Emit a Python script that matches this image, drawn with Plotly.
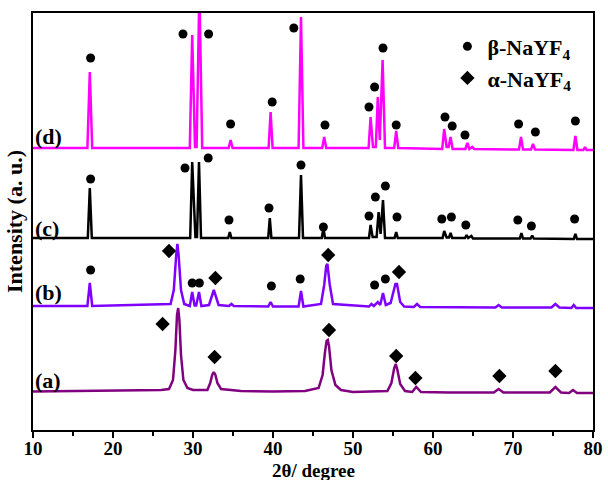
import plotly.graph_objects as go

# ---- data (2θ in degrees, intensity in arbitrary units, stacked offsets included) ----
a_x = [10, 20, 26, 27.0, 27.5, 27.8, 28.0, 28.15, 28.3, 28.5, 28.8, 29.3, 30, 31.8, 32.15, 32.4,
       32.6, 32.8, 33.05, 33.5, 36, 40, 44, 45.7, 46.2, 46.5, 46.7, 46.85, 47.0, 47.3, 47.8, 48.5,
       50, 54.3, 54.8, 55.15, 55.35, 55.55, 55.9, 56.5, 57.4, 57.9, 58.5, 62,
       67.6, 68.2, 68.8, 74.6, 75.3, 76.0, 77.0, 77.5, 78.0, 80]
a_y = [38.5, 39, 40, 41, 50, 80, 115, 122, 110, 75, 50, 42, 40, 40, 47, 55,
       58, 55, 47, 41, 39, 38.5, 39, 42, 55, 78, 89, 90, 84, 60, 45, 40,
       38, 39, 47, 62, 66, 60, 46, 39, 38, 43, 38, 37.5,
       37.5, 41, 37.5, 37.5, 43, 37.5, 37, 40, 37, 37]

b_x = [10, 16.8, 17.1, 17.4, 27.2, 27.6, 27.9, 28.05, 28.2, 28.5, 28.9, 29.6, 29.9, 30.2, 30.4,
       30.75, 31.05, 32.0, 32.6, 33.2, 34.5, 34.8, 35.1, 39.4, 39.7, 40.0, 43.2, 43.5, 43.8, 46.0,
       46.4, 46.65, 46.8, 47.1, 47.5, 52.0, 52.3, 52.6, 53.1, 53.4, 53.75, 54.1, 54.7, 55.3, 55.5,
       55.9, 56.4, 57.6, 58.0, 58.4, 67.8, 68.2, 68.6, 74.8, 75.3, 75.8, 77.3, 77.6, 77.9, 80]
b_y = [124, 124, 147, 124, 126, 140, 175, 186, 175, 140, 126, 124, 138, 124.5, 124.5,
       138, 124, 125, 140, 125, 124, 126, 124, 123.5, 128, 123.5, 123.5, 139, 123.5, 126,
       145, 164, 166, 145, 126, 123.5, 126, 124, 128, 125, 137, 125, 127, 146, 146,
       128, 123.5, 123, 126, 123, 122.5, 125, 122.5, 122.5, 126, 122.5, 122, 125, 122, 122]

c_x = [10, 16.85, 17.1, 17.35, 29.65, 29.9, 30.3, 30.5, 30.75, 31.0, 34.4, 34.6, 34.8, 39.4,
       39.6, 39.8, 43.25, 43.5, 43.75, 46.1, 46.3, 46.5, 52.0, 52.2, 52.45, 52.95, 53.2, 53.45,
       53.75, 54.0, 55.2, 55.4, 55.6, 61.2, 61.4, 61.7, 62.0, 62.2, 62.4, 64.0, 64.2, 64.4, 64.8,
       65.0, 70.85, 71.05, 71.25, 72.2, 72.4, 72.6, 77.6, 77.8, 78.0, 80]
c_y = [192, 192, 242, 192, 192, 268, 193, 193, 268, 192, 192, 198, 192, 192,
       212, 192, 192, 255, 192, 192, 202, 192, 192, 205, 193, 193, 218, 196,
       230, 192, 192, 198, 192, 192, 199, 192.5, 192.5, 197, 192, 192, 195, 192, 194,
       191.5, 191.5, 197, 191.5, 191.5, 194.5, 191.5, 191, 196, 191, 191]

d_x = [10, 16.8, 17.1, 17.4, 29.6, 29.9, 30.25, 30.45, 30.8, 31.15, 34.45, 34.7, 34.95, 39.45,
       39.7, 39.95, 43.2, 43.5, 43.8, 46.15, 46.4, 46.65, 51.95, 52.2, 52.5, 52.85, 53.1, 53.35,
       53.7, 54.0, 55.15, 55.4, 55.65, 61.15, 61.4, 61.7, 61.95, 62.2, 62.45, 64.05, 64.3, 64.55,
       64.9, 65.15, 70.75, 71.0, 71.25, 72.25, 72.5, 72.75, 77.55, 77.8, 78.05, 78.8, 79.0, 79.2, 80]
d_y = [282, 282, 358, 282, 282, 395, 283, 283, 440, 282, 282, 290, 282, 282,
       318, 282, 282, 413, 282, 282, 293, 282, 282, 313, 283, 283, 333, 290,
       370, 282, 282, 299, 282, 281, 301, 283, 283, 293, 281, 281, 287, 281,
       283, 281, 280.5, 293, 280.5, 280.5, 286, 280.5, 280, 294, 280, 280, 283, 280, 280]

# phase markers (β = circles, α = diamonds)
beta_x = [17.2, 28.75, 31.95, 34.7, 39.9, 42.6, 46.5, 52.0, 52.7, 53.75, 55.4, 61.5, 62.4, 64.0, 70.7, 72.8, 77.8,
          17.2, 29.0, 31.9, 34.5, 39.5, 43.5, 46.3, 52.0, 52.8, 54.05, 55.5, 61.1, 62.3, 64.1, 70.6, 72.3, 77.7,
          17.2, 29.9, 30.8, 39.8, 43.4, 52.7, 54.05]
beta_y = [372, 396, 396, 306, 328, 402, 305, 323, 343, 382, 305, 313, 304, 295, 306, 298, 309,
          251, 262, 272, 210, 222, 265, 203, 214, 233, 244, 213, 211, 213, 205, 210, 204, 211,
          160, 147, 147, 144, 151, 145, 151]
alpha_x = [27.0, 32.8, 46.9, 55.75,
           26.2, 32.7, 47.0, 55.4, 57.8, 68.3, 75.3]
alpha_y = [179, 152, 175, 158,
           106, 73, 100, 74, 52, 54, 59]

labels = ["(a)", "(b)", "(c)", "(d)"]
label_y = [50, 138, 202, 294]
colors = ["#800080", "#8000FF", "#000000", "#FF00FF"]
series = [(a_x, a_y), (b_x, b_y), (c_x, c_y), (d_x, d_y)]

FONT = "Liberation Serif"

fig = go.Figure()
for (sx, sy), col, lab in zip(series, colors, labels):
    fig.add_trace(go.Scatter(x=sx, y=sy, mode="lines", line=dict(color=col, width=2.5),
                             showlegend=False, name=lab))

fig.add_trace(go.Scatter(x=beta_x, y=beta_y, mode="markers", name="β-NaYF<sub>4</sub>",
                         marker=dict(symbol="circle", size=9, color="black")))
fig.add_trace(go.Scatter(x=alpha_x, y=alpha_y, mode="markers", name="α-NaYF<sub>4</sub>",
                         marker=dict(symbol="diamond", size=11, color="black")))

for lab, ly in zip(labels, label_y):
    fig.add_annotation(x=10.05, y=ly, xref="x", yref="y", text=lab, showarrow=False,
                       xanchor="left", yanchor="middle",
                       font=dict(family=FONT, size=22, color="black", weight="bold"))

# x-axis title placed just below the tick labels
fig.add_annotation(x=0.5, y=-0.0965, xref="paper", yref="paper", text="2θ/ degree",
                   showarrow=False, xanchor="center", yanchor="middle",
                   font=dict(family=FONT, size=19, color="black", weight="bold"))

fig.update_layout(
    width=608, height=480,
    margin=dict(l=33, r=15, t=13, b=50, autoexpand=False),
    paper_bgcolor="white", plot_bgcolor="white",
    font=dict(family=FONT, size=20, color="black", weight="bold"),
    legend=dict(x=0.74, y=0.97, xanchor="left", yanchor="top",
                bgcolor="rgba(0,0,0,0)", font=dict(family=FONT, size=22, weight="bold"),
                itemsizing="trace", tracegroupgap=0),
    xaxis=dict(range=[10, 80], dtick=10, tick0=10, ticks="outside", ticklen=6, tickwidth=2,
               tickcolor="black", showline=True, linewidth=2, linecolor="black", mirror=True,
               showgrid=False, zeroline=False, automargin=False, ticklabelstandoff=-6,
               tickfont=dict(family=FONT, size=19, weight="bold"),
               minor=dict(dtick=5, ticks="outside", ticklen=4, tickwidth=2, tickcolor="black")),
    yaxis=dict(range=[0, 417], showticklabels=False, ticks="", showline=True, linewidth=2,
               linecolor="black", mirror=True, showgrid=False, zeroline=False, automargin=False,
               title=dict(text="Intensity (a. u.)", standoff=2,
                          font=dict(family=FONT, size=22, weight="bold"))),
)

fig.write_html("out.html")
